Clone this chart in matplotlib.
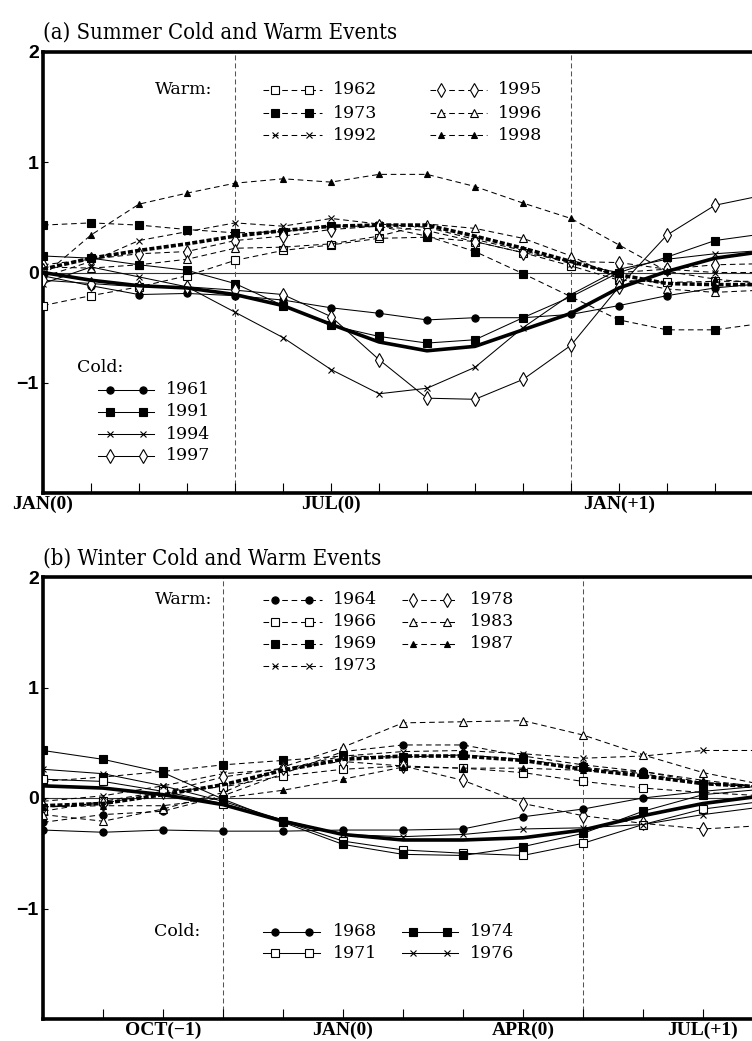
import numpy as np
import matplotlib
matplotlib.use('Agg')
import matplotlib.pyplot as plt
from matplotlib.lines import Line2D

# ---------------- panel (a): summer events, months JAN(0) ... APR(+1)
a_months = np.arange(16)
a_cold_1961 = [-0.03, -0.12, -0.20, -0.19, -0.21, -0.25, -0.32, -0.37, -0.43, -0.41, -0.41, -0.38, -0.30, -0.21, -0.14, -0.10]
a_cold_1991 = [0.15, 0.13, 0.07, 0.02, -0.10, -0.30, -0.48, -0.58, -0.64, -0.61, -0.41, -0.22, 0.00, 0.14, 0.29, 0.35]
a_cold_1994 = [-0.10, 0.05, -0.04, -0.13, -0.36, -0.59, -0.88, -1.10, -1.05, -0.86, -0.50, -0.20, 0.03, 0.12, 0.17, 0.20]
a_cold_1997 = [-0.07, -0.10, -0.13, -0.13, -0.16, -0.20, -0.40, -0.79, -1.14, -1.15, -0.97, -0.66, -0.13, 0.34, 0.61, 0.70]
a_cold_mean = [0.00, -0.07, -0.12, -0.14, -0.20, -0.30, -0.47, -0.63, -0.71, -0.67, -0.52, -0.37, -0.14, 0.01, 0.13, 0.19]

a_warm_1962 = [-0.30, -0.21, -0.13, -0.03, 0.11, 0.20, 0.25, 0.31, 0.32, 0.28, 0.18, 0.06, -0.07, -0.09, -0.08, -0.08]
a_warm_1973 = [0.43, 0.45, 0.43, 0.39, 0.36, 0.37, 0.42, 0.42, 0.33, 0.19, -0.01, -0.22, -0.43, -0.52, -0.52, -0.46]
a_warm_1992 = [-0.04, 0.10, 0.29, 0.37, 0.45, 0.42, 0.49, 0.44, 0.41, 0.30, 0.20, 0.08, 0.00, 0.03, 0.00, 0.00]
a_warm_1995 = [0.07, 0.12, 0.17, 0.19, 0.29, 0.33, 0.39, 0.42, 0.38, 0.28, 0.18, 0.10, 0.09, 0.03, 0.07, 0.08]
a_warm_1996 = [0.05, 0.04, 0.07, 0.12, 0.22, 0.23, 0.26, 0.33, 0.44, 0.40, 0.31, 0.15, -0.06, -0.15, -0.18, -0.16]
a_warm_1998 = [-0.03, 0.34, 0.62, 0.72, 0.81, 0.85, 0.82, 0.89, 0.89, 0.78, 0.63, 0.49, 0.25, 0.01, -0.06, -0.10]
a_warm_mean = [0.03, 0.13, 0.20, 0.26, 0.33, 0.38, 0.42, 0.43, 0.43, 0.33, 0.22, 0.10, -0.02, -0.10, -0.11, -0.11]

a_tick_pos = [0, 6, 12]
a_tick_labels = ['JAN(0)', 'JUL(0)', 'JAN(+1)']
a_vlines = [4, 11]

# ---------------- panel (b): winter events, months AUG(-1) ... AUG(+1)
b_months = np.arange(13)
b_cold_1968 = [-0.29, -0.31, -0.29, -0.30, -0.30, -0.29, -0.29, -0.28, -0.17, -0.10, 0.00, 0.06, 0.11]
b_cold_1971 = [0.17, 0.15, 0.06, -0.05, -0.21, -0.39, -0.47, -0.50, -0.52, -0.41, -0.24, -0.10, -0.03]
b_cold_1974 = [0.43, 0.35, 0.23, -0.01, -0.22, -0.42, -0.51, -0.52, -0.44, -0.32, -0.12, 0.03, 0.08]
b_cold_1976 = [0.26, 0.22, 0.11, -0.03, -0.20, -0.33, -0.35, -0.33, -0.28, -0.27, -0.24, -0.15, -0.08]
b_cold_mean = [0.11, 0.09, 0.03, -0.06, -0.21, -0.33, -0.38, -0.38, -0.36, -0.29, -0.16, -0.05, 0.02]

b_warm_1964 = [-0.22, -0.15, -0.12, 0.02, 0.22, 0.42, 0.48, 0.48, 0.38, 0.30, 0.24, 0.14, 0.10]
b_warm_1966 = [-0.12, -0.03, 0.06, 0.10, 0.20, 0.26, 0.29, 0.27, 0.23, 0.15, 0.09, 0.05, 0.02]
b_warm_1969 = [0.15, 0.19, 0.24, 0.30, 0.34, 0.38, 0.37, 0.39, 0.35, 0.28, 0.22, 0.13, 0.10]
b_warm_1973 = [-0.03, 0.02, 0.11, 0.22, 0.26, 0.38, 0.42, 0.43, 0.40, 0.36, 0.38, 0.43, 0.43]
b_warm_1978 = [-0.08, -0.05, 0.05, 0.19, 0.27, 0.33, 0.29, 0.16, -0.05, -0.16, -0.23, -0.28, -0.25]
b_warm_1983 = [-0.15, -0.21, -0.10, 0.05, 0.28, 0.46, 0.68, 0.69, 0.70, 0.57, 0.39, 0.23, 0.12]
b_warm_1987 = [-0.08, -0.07, -0.07, 0.00, 0.07, 0.17, 0.28, 0.27, 0.27, 0.25, 0.24, 0.16, 0.10]
b_warm_mean = [-0.07, -0.05, 0.03, 0.12, 0.25, 0.35, 0.38, 0.38, 0.34, 0.26, 0.20, 0.13, 0.10]

b_tick_pos = [2, 5, 8, 11]
b_tick_labels = ['OCT(−1)', 'JAN(0)', 'APR(0)', 'JUL(+1)']
b_vlines = [3, 9]

# marker looks
mk = {
    'fcircle': dict(marker='o', ms=5.2, mfc='black', mec='black', mew=0.8),
    'osquare': dict(marker='s', ms=5.6, mfc='white', mec='black', mew=0.8),
    'fsquare': dict(marker='s', ms=6.0, mfc='black', mec='black', mew=0.8),
    'cross': dict(marker='x', ms=5.0, mfc='black', mec='black', mew=0.8),
    'diamond': dict(marker='d', ms=7.0, mfc='white', mec='black', mew=0.8),
    'otri': dict(marker='^', ms=6.0, mfc='white', mec='black', mew=0.8),
    'ftri': dict(marker='^', ms=4.6, mfc='black', mec='black', mew=0.8),
}
THIN_DASH = (0, (5.4, 3.6))

a_cold = [('1961', a_cold_1961, 'fcircle'), ('1991', a_cold_1991, 'fsquare'),
          ('1994', a_cold_1994, 'cross'), ('1997', a_cold_1997, 'diamond')]
a_warm = [('1962', a_warm_1962, 'osquare'), ('1973', a_warm_1973, 'fsquare'),
          ('1992', a_warm_1992, 'cross'), ('1995', a_warm_1995, 'diamond'),
          ('1996', a_warm_1996, 'otri'), ('1998', a_warm_1998, 'ftri')]
b_cold = [('1968', b_cold_1968, 'fcircle'), ('1971', b_cold_1971, 'osquare'),
          ('1974', b_cold_1974, 'fsquare'), ('1976', b_cold_1976, 'cross')]
b_warm = [('1964', b_warm_1964, 'fcircle'), ('1966', b_warm_1966, 'osquare'),
          ('1969', b_warm_1969, 'fsquare'), ('1973', b_warm_1973, 'cross'),
          ('1978', b_warm_1978, 'diamond'), ('1983', b_warm_1983, 'otri'),
          ('1987', b_warm_1987, 'ftri')]

W, H = 752, 1041
fig = plt.figure(figsize=(W / 100, H / 100), dpi=100)


def fx(px):
    return px / W


def fy(py):
    return 1 - py / H


SERIF = 'DejaVu Serif'
TITLE_KW = dict(family='DejaVu Serif', fontstretch='condensed', fontsize=15.8,
                va='center', ha='left')


def setup_axes(ax, x_max, tick_pos, tick_labels, vlines):
    ax.set_xlim(0, x_max)
    ax.set_ylim(-2, 2)
    ax.set_xticks(np.arange(0, x_max + 1))
    ax.set_xticklabels(['' if i not in tick_pos else tick_labels[tick_pos.index(i)]
                        for i in range(x_max + 1)])
    ax.set_yticks([-1, 0, 1, 2])
    ax.set_yticklabels(['−1', '0', '1', '2'])
    ax.tick_params(axis='x', direction='in', length=7, width=0.8, pad=2)
    ax.tick_params(axis='y', direction='in', length=3.5, width=0.8, pad=3)
    for t in ax.get_xticklabels():
        t.set_fontfamily('Liberation Serif')
        t.set_fontweight('bold')
        t.set_fontsize(14)
    for t in ax.get_yticklabels():
        t.set_fontfamily('Liberation Sans')
        t.set_fontweight('bold')
        t.set_fontsize(14)
    for s in ax.spines.values():
        s.set_linewidth(2.6)
    ax.axhline(0, color='#333333', lw=0.8, zorder=1)
    for v in vlines:
        ax.axvline(v, color='#555555', lw=0.75, ls=(0, (4.8, 2.9)), zorder=1)


def draw(ax, x, cold, warm, cold_mean, warm_mean):
    for label, vals, kind in warm:
        ax.plot(x[:len(vals)], vals, color='black', lw=0.75, ls=THIN_DASH, zorder=3, **mk[kind])
    for label, vals, kind in cold:
        ax.plot(x[:len(vals)], vals, color='black', lw=0.75, ls='-', zorder=3, **mk[kind])
    ax.plot(x[:len(warm_mean)], warm_mean, color='black', lw=2.6, ls=(0, (1.4, 0.6)), zorder=4)
    ax.plot(x[:len(cold_mean)], cold_mean, color='black', lw=2.6, ls='-', zorder=4)


def legend_key(x0, x1, m0, m1, y, kind, warm, text, tx):
    ls = THIN_DASH if warm else '-'
    fig.add_artist(Line2D([fx(x0), fx(x1)], [fy(y), fy(y)], transform=fig.transFigure,
                          color='black', lw=0.75, ls=ls))
    fig.add_artist(Line2D([fx(m0), fx(m1)], [fy(y), fy(y)], transform=fig.transFigure,
                          ls='none', **mk[kind]))
    fig.text(fx(tx), fy(y), text, family=SERIF, fontsize=12.5, va='center', ha='left')


# ---------------- panel (a)
ax_a = fig.add_axes([fx(43), fy(493), 768 / W, 441 / H])
setup_axes(ax_a, 16, a_tick_pos, a_tick_labels, a_vlines)
draw(ax_a, a_months, a_cold, a_warm, a_cold_mean, a_warm_mean)
fig.text(fx(43), fy(33), '(a) Summer Cold and Warm Events', **TITLE_KW)

fig.text(fx(155), fy(90), 'Warm:', family=SERIF, fontsize=12.5, va='center', ha='left')
rows = [90, 113, 135]
for i, (label, vals, kind) in enumerate(a_warm):
    y = rows[i % 3]
    if i < 3:
        legend_key(263, 322, 275, 309, y, kind, True, label, 333)
    else:
        legend_key(430, 487, 441, 474, y, kind, True, label, 498)

fig.text(fx(77), fy(367), 'Cold:', family=SERIF, fontsize=12.5, va='center', ha='left')
for i, (label, vals, kind) in enumerate(a_cold):
    legend_key(98, 154, 110, 143, 390 + 22 * i, kind, False, label, 166)

# ---------------- panel (b)
ax_b = fig.add_axes([fx(43), fy(1019), 780 / W, 442 / H])
setup_axes(ax_b, 13, b_tick_pos, b_tick_labels, b_vlines)
draw(ax_b, b_months, b_cold, b_warm, b_cold_mean, b_warm_mean)
fig.text(fx(43), fy(558), '(b) Winter Cold and Warm Events', **TITLE_KW)

fig.text(fx(155), fy(600), 'Warm:', family=SERIF, fontsize=12.5, va='center', ha='left')
rows = [600, 622, 644, 666]
for i, (label, vals, kind) in enumerate(b_warm):
    if i < 4:
        legend_key(263, 322, 275, 309, rows[i], kind, True, label, 333)
    else:
        legend_key(402, 458, 413, 447, rows[i - 4], kind, True, label, 470)

fig.text(fx(154), fy(932), 'Cold:', family=SERIF, fontsize=12.5, va='center', ha='left')
rows = [932, 953]
for i, (label, vals, kind) in enumerate(b_cold):
    if i < 2:
        legend_key(263, 320, 275, 309, rows[i], kind, False, label, 333)
    else:
        legend_key(402, 458, 413, 447, rows[i - 2], kind, False, label, 470)

fig.savefig('out.png', dpi=100)
